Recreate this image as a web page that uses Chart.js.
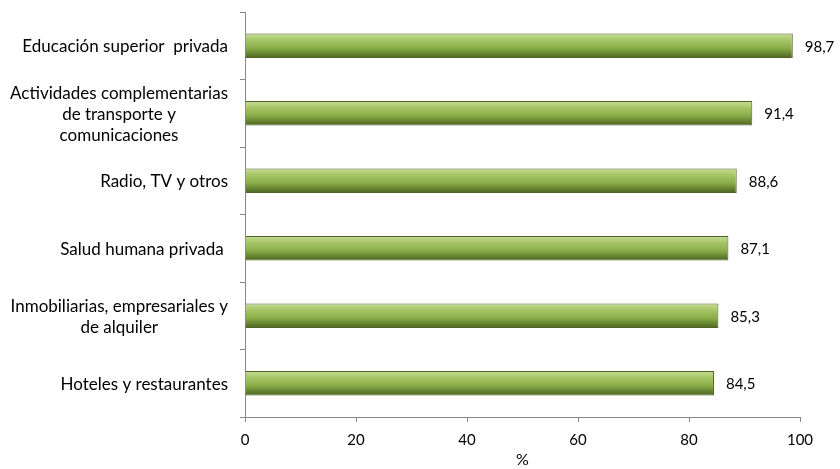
<!DOCTYPE html>
<html>
<head>
<meta charset="utf-8">
<script src="https://cdn.jsdelivr.net/npm/chart.js@4"></script>
<style>
  html, body { margin: 0; padding: 0; background: #fff; }
  #wrap { width: 840px; height: 469px; }
</style>
</head>
<body>
<div id="wrap"><canvas id="chart" width="840" height="469"></canvas></div>
<script>
const categories = [
    "Educación superior  privada",
    ["Actividades complementarias", "de transporte y", "comunicaciones"],
    "Radio, TV y otros",
    "Salud humana privada ",
    ["Inmobiliarias, empresariales y", "de alquiler"],
    "Hoteles y restaurantes"
];
const values = [98.7, 91.4, 88.6, 87.1, 85.3, 84.5];
const xTicks = [0, 20, 40, 60, 80, 100];

const FONT = "Lato, 'Open Sans', sans-serif";

function barGradient(ctx) {
    const chart = ctx.chart;
    if (!chart.chartArea || ctx.dataIndex === undefined) return "#9bbb59";
    const y = chart.scales.y.getPixelForValue(ctx.dataIndex);
    const g = chart.ctx.createLinearGradient(0, y - 12, 0, y + 12);
    g.addColorStop(0, "#c6dc95");
    g.addColorStop(0.25, "#a8c768");
    g.addColorStop(0.6, "#8aac48");
    g.addColorStop(1, "#4c6620");
    return g;
}

// values at bar ends + category labels (multi-line, centred, block right-aligned)
const textPlugin = {
    id: "textPlugin",
    afterDatasetsDraw(chart) {
        const c = chart.ctx;
        const meta = chart.getDatasetMeta(0);
        const yScale = chart.scales.y;
        c.save();
        c.fillStyle = "#000";
        c.textBaseline = "middle";
        c.font = "15px " + FONT;
        c.textAlign = "left";
        meta.data.forEach((bar, i) => {
            c.fillText(values[i].toFixed(1).replace(".", ","), bar.x + 12, bar.y + 1);
        });

        c.font = "17px " + FONT;
        c.textAlign = "center";
        const right = yScale.right - 17;
        const lh = 21;
        categories.forEach((lab, i) => {
            const lines = Array.isArray(lab) ? lab : [lab];
            const w = Math.max(...lines.map(l => c.measureText(l).width));
            const cx = right - w / 2;
            const cy = yScale.getPixelForValue(i) + 1;
            lines.forEach((l, j) => {
                c.fillText(l, cx, cy + (j - (lines.length - 1) / 2) * lh);
            });
        });
        c.restore();
    }
};

new Chart(document.getElementById("chart"), {
    type: "bar",
    data: {
        labels: categories,
        datasets: [{
            data: values,
            backgroundColor: barGradient,
            borderColor: "#4f6228",
            borderWidth: 1,
            categoryPercentage: 1,
            barPercentage: 0.36
        }]
    },
    options: {
        indexAxis: "y",
        responsive: false,
        animation: false,
        layout: { padding: { top: 12, right: 40, bottom: 0, left: 0 } },
        plugins: { legend: { display: false }, tooltip: { enabled: false } },
        scales: {
            x: {
                min: 0, max: 100,
                afterBuildTicks: axis => { axis.ticks = xTicks.map(v => ({ value: v })); },
                afterFit: axis => { axis.height = 52; },
                grid: { drawOnChartArea: false, color: "#888", tickLength: 5 },
                border: { color: "#888", width: 1 },
                ticks: { font: { size: 15, family: FONT }, color: "#000", padding: 9, maxRotation: 0 },
                title: { display: true, text: "%", font: { size: 16, family: FONT }, color: "#000", padding: { top: 0, bottom: 0 } }
            },
            y: {
                afterFit: axis => { axis.width = 245; },
                grid: { drawOnChartArea: false, color: "#888", tickLength: 5, offset: true },
                border: { color: "#888", width: 1 },
                ticks: { display: false }
            }
        }
    },
    plugins: [textPlugin]
});
</script>
</body>
</html>
